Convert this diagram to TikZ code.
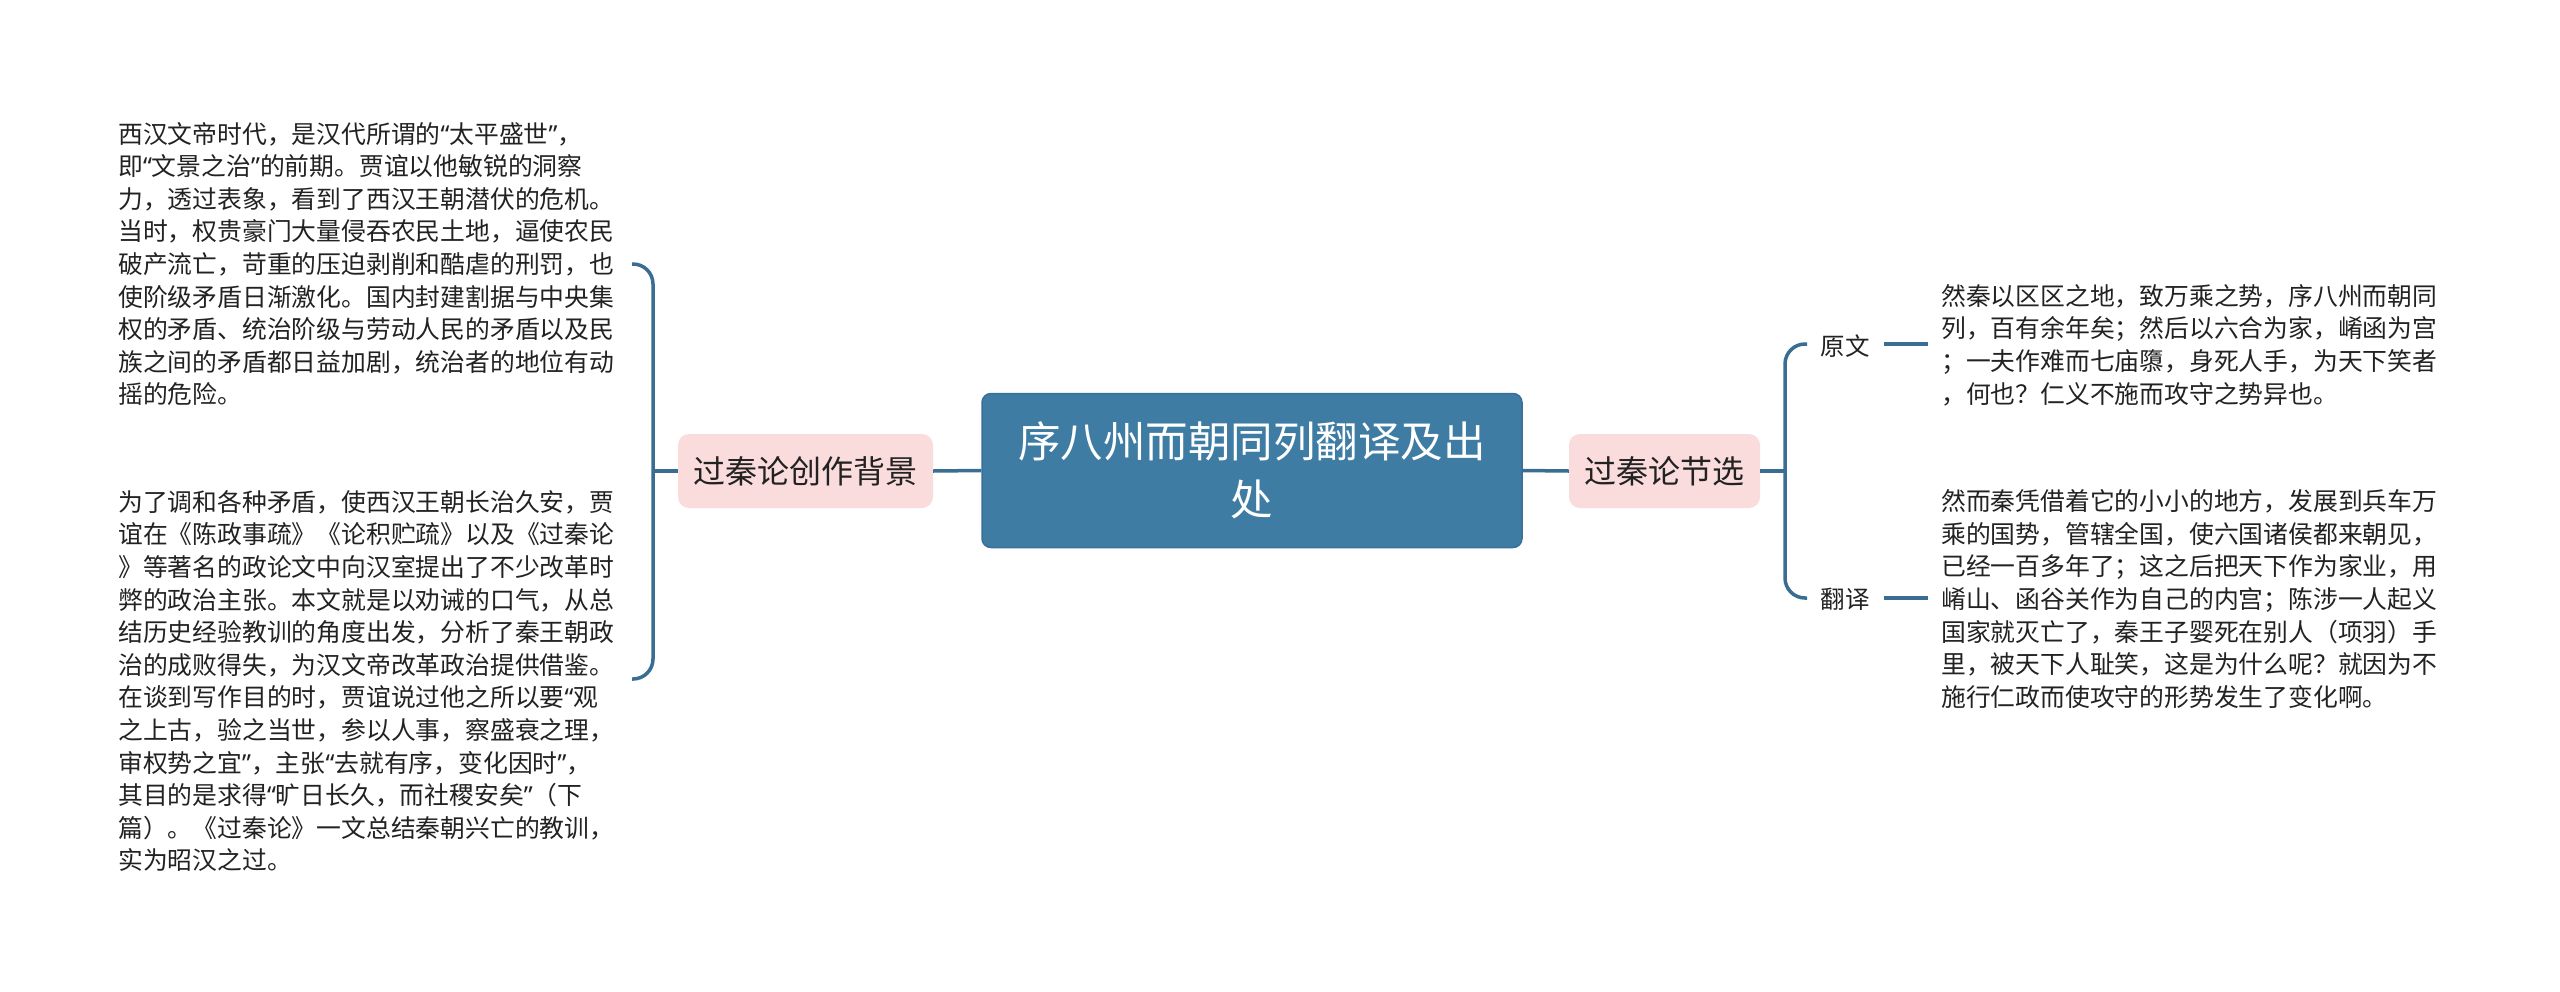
\documentclass[tikz,border=0pt]{standalone}
\usepackage{fontspec}
\setmainfont{Noto Sans CJK SC}
\newfontfamily\latinq{Noto Sans}
\newcommand\qo{{\latinq “}}
\newcommand\qc{{\latinq ”}}
\definecolor{rootfill}{HTML}{3F7CA4}
\definecolor{rootline}{HTML}{38709A}
\definecolor{subfill}{HTML}{FBDCDC}
\definecolor{linkc}{HTML}{3A6D92}
\definecolor{txt}{HTML}{222222}
\tikzset{
  rootbox/.style={draw=rootline, line width=1.5pt, fill=rootfill, rounded corners=9pt, text=white,
    minimum width=540pt, minimum height=154pt, align=center, inner sep=0pt,
    font=\fontsize{42.5pt}{58pt}\selectfont},
  subbox/.style={fill=subfill, rounded corners=11pt, text=txt, minimum height=74pt, inner sep=0pt,
    font=\fontsize{32pt}{36pt}\selectfont},
  leafbody/.style={text=txt, align=left, inner sep=0pt, anchor=west,
    font=\fontsize{24.8pt}{32.6pt}\selectfont},
  leaflabel/.style={text=txt, inner sep=0pt, font=\fontsize{24.5pt}{28pt}\selectfont},
  link/.style={draw=linkc, line width=3.5pt},
}
\begin{document}
\begin{tikzpicture}[x=1pt,y=-1pt]
\fill[white] (0,0) rectangle (2560,991);
\useasboundingbox (0,0) rectangle (2560,991);

% root
\node[rootbox] (root) at (1252,470.5) {序八州而朝同列翻译及出\\处};

% subtopics
\node[subbox, minimum width=255pt] (bg) at (805.5,471) {过秦论创作背景};
\node[subbox, minimum width=191pt] (sel) at (1664.5,471) {过秦论节选};

% left leaves
\node[leafbody] (t1) at (118,264) {西汉文帝时代，是汉代所谓的\qo 太平盛世\qc ，\\
即\qo 文景之治\qc 的前期。贾谊以他敏锐的洞察\\
力，透过表象，看到了西汉王朝潜伏的危机。\\
当时，权贵豪门大量侵吞农民土地，逼使农民\\
破产流亡，苛重的压迫剥削和酷虐的刑罚，也\\
使阶级矛盾日渐激化。国内封建割据与中央集\\
权的矛盾、统治阶级与劳动人民的矛盾以及民\\
族之间的矛盾都日益加剧，统治者的地位有动\\
摇的危险。};

\node[leafbody] (t2) at (118,681) {为了调和各种矛盾，使西汉王朝长治久安，贾\\
谊在《陈政事疏》《论积贮疏》以及《过秦论\\
》等著名的政论文中向汉室提出了不少改革时\\
弊的政治主张。本文就是以劝诫的口气，从总\\
结历史经验教训的角度出发，分析了秦王朝政\\
治的成败得失，为汉文帝改革政治提供借鉴。\\
在谈到写作目的时，贾谊说过他之所以要\qo 观\\
之上古，验之当世，参以人事，察盛衰之理，\\
审权势之宜\qc ，主张\qo 去就有序，变化因时\qc ，\\
其目的是求得\qo 旷日长久，而社稷安矣\qc （下\\
篇）。《过秦论》一文总结秦朝兴亡的教训，\\
实为昭汉之过。};

% right labels
\node[leaflabel] (yw) at (1845,346) {原文};
\node[leaflabel] (fy) at (1845,599) {翻译};

% right leaves
\node[leafbody] (t3) at (1941,345) {然秦以区区之地，致万乘之势，序八州而朝同\\
列，百有余年矣；然后以六合为家，崤函为宫\\
；一夫作难而七庙隳，身死人手，为天下笑者\\
，何也？仁义不施而攻守之势异也。};

\node[leafbody] (t4) at (1941,599) {然而秦凭借着它的小小的地方，发展到兵车万\\
乘的国势，管辖全国，使六国诸侯都来朝见，\\
已经一百多年了；这之后把天下作为家业，用\\
崤山、函谷关作为自己的内宫；陈涉一人起义\\
国家就灭亡了，秦王子婴死在别人（项羽）手\\
里，被天下人耻笑，这是为什么呢？就因为不\\
施行仁政而使攻守的形势发生了变化啊。};

% bracket coordinates
\coordinate (lbT) at (632,264);
\coordinate (lbB) at (632,679);
\coordinate (lbM) at (653,471);
\coordinate (rbT) at (1807,344);
\coordinate (rbB) at (1807,598);
\coordinate (rbM) at (1785,471);

% connectors
\draw[link] (root.west) -- (bg.east);
\draw[link] (root.east) -- (sel.west);
\draw[link] (bg.west) -- (lbM);
\draw[link] (sel.east) -- (rbM);
\draw[link, rounded corners=20pt] (lbT) -| (lbM) |- (lbB);
\draw[link, rounded corners=20pt] (rbT) -| (rbM) |- (rbB);
\draw[link] ([xshift=14pt]yw.east |- rbT) -- ([xshift=-13pt]t3.west |- rbT);
\draw[link] ([xshift=14pt]fy.east |- rbB) -- ([xshift=-13pt]t4.west |- rbB);
\end{tikzpicture}
\end{document}
